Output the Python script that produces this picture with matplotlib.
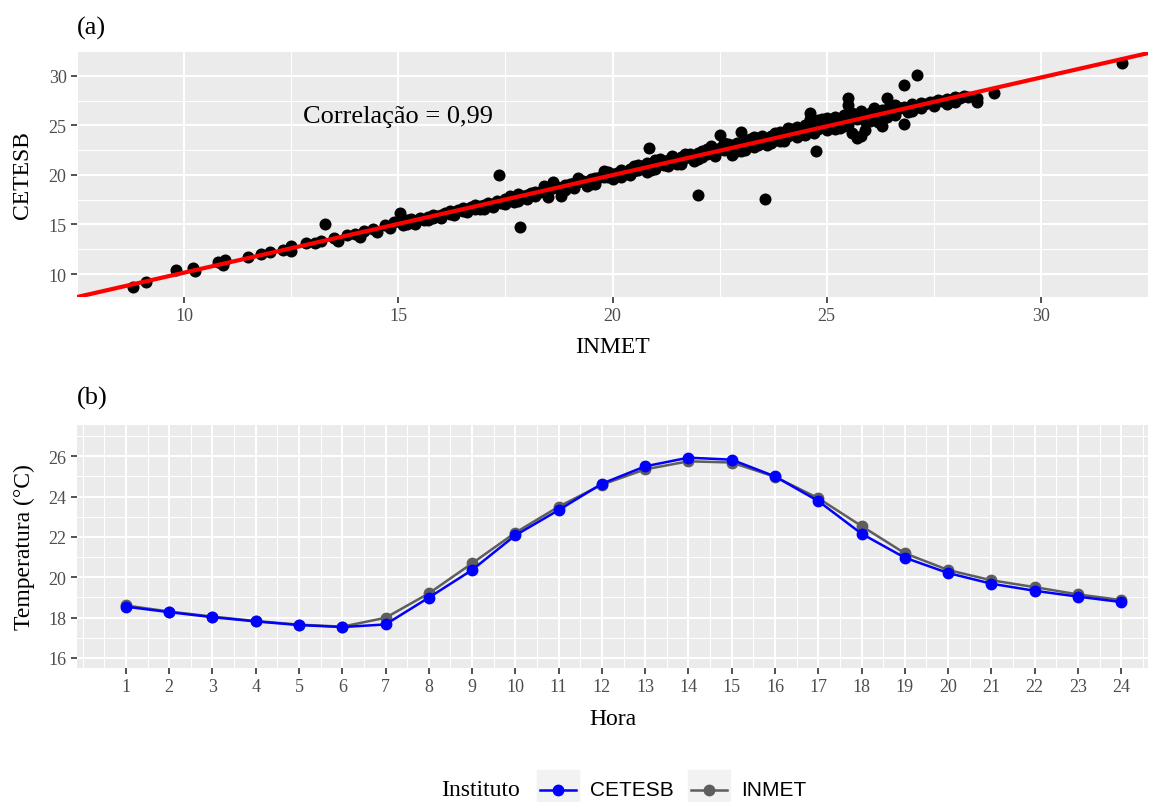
import numpy as np
import matplotlib.pyplot as plt
from matplotlib.lines import Line2D
from matplotlib.patches import Rectangle

plt.rcParams['font.family'] = ['Liberation Serif', 'DejaVu Serif']

# ── Data: (a) hourly temperature pairs, INMET vs CETESB ─────────────────────
INMET_X = [
    8.8, 9.1, 9.8, 10.2, 10.25, 10.8, 10.95, 10.9, 11.5, 11.8, 12.0, 12.3, 12.5, 12.5,
    12.85, 13.05, 13.3, 13.2, 13.5, 13.6, 13.8, 14.0, 14.1, 14.2, 14.4, 14.5, 14.7, 14.8,
    14.9, 15.05, 17.35, 17.85, 20.85, 22.0, 23.55, 24.75,
    15.1, 15.1, 15.2, 15.2, 15.3, 15.3, 15.4, 15.5, 15.5, 15.6, 15.7, 15.8, 15.8, 15.9,
    16.0, 16.1, 16.2, 16.2, 16.3, 16.4, 16.5, 16.5, 16.6, 16.7, 16.8, 16.8, 16.9, 17.0,
    17.0, 17.1, 17.2, 17.3, 17.4, 17.5, 17.6, 17.6, 17.7, 17.7, 17.8, 17.9, 18.0, 18.0,
    18.1, 18.2, 18.3, 18.4, 18.5, 18.5, 18.6, 18.6, 18.7, 18.8, 18.8, 18.9, 19.0, 19.1,
    19.1, 19.2, 19.3, 19.4, 19.4, 19.5, 19.6, 19.6, 19.7, 19.8, 19.8, 19.9, 20.0, 20.0,
    20.1, 20.2, 20.3, 20.4, 20.5, 20.5, 20.6, 20.7, 20.8, 20.8, 20.9, 21.0, 21.0, 21.1,
    21.2, 21.2, 21.3, 21.4, 21.4, 21.5, 21.6, 21.6, 21.7, 21.8, 21.9, 22.0, 22.0, 22.1,
    22.2, 22.3, 22.3, 22.4, 22.5, 22.5, 22.6, 22.6, 22.7, 22.8, 22.8, 22.9, 22.9, 23.0,
    23.0, 23.1, 23.1, 23.2, 23.2, 23.3, 23.3, 23.4, 23.5, 23.5, 23.6, 23.6, 23.7, 23.8,
    23.8, 23.9, 23.9, 24.0, 24.0, 24.1, 24.1, 24.2, 24.2, 24.3, 24.3, 24.4, 24.4, 24.5,
    24.5, 24.6, 24.6, 24.6, 24.7, 24.7, 24.8, 24.8, 24.9, 24.9, 25.0, 25.0, 25.1, 25.1,
    25.2, 25.2, 25.3, 25.3, 25.4, 25.4, 25.5, 25.5, 25.5, 25.6, 25.6, 25.7, 25.7, 25.8,
    25.8, 25.9, 25.9, 26.0, 26.0, 26.1, 26.1, 26.2, 26.2, 26.3, 26.3, 26.4, 26.4, 26.4,
    26.5, 26.5, 26.6, 26.6, 26.7, 26.8, 26.8, 26.8, 26.9, 27.0, 27.0, 27.1, 27.1, 27.2,
    27.3, 27.4, 27.5, 27.6, 27.7, 27.8, 27.9, 28.0, 28.0, 28.1, 28.2, 28.3, 28.5, 28.5,
    28.9, 31.9,
    15.4, 15.7, 16.0, 16.3, 16.6, 16.9, 17.2, 17.5, 17.8, 18.2, 18.4, 18.9, 19.2, 19.5,
    19.9, 20.2, 20.4, 20.6, 20.9, 21.1, 21.3, 21.5, 21.7, 21.9, 22.1, 22.2, 22.4, 22.7,
    23.0, 23.3, 23.4, 23.7, 23.9, 24.1, 24.3, 24.5, 24.8, 25.0, 25.2, 25.4, 25.6, 25.9,
    26.1, 26.3, 26.6, 26.9, 27.2, 27.5, 27.8,
]
CETESB_Y = [
    8.7, 9.2, 10.4, 10.6, 10.3, 11.2, 11.4, 10.9, 11.7, 12.0, 12.2, 12.4, 12.8, 12.3,
    13.1, 13.1, 15.0, 13.3, 13.6, 13.3, 13.9, 14.0, 13.7, 14.3, 14.5, 14.2, 14.9, 14.6,
    15.2, 16.2, 20.0, 14.7, 22.7, 18.0, 17.6, 22.45,
    15.3, 14.9, 15.0, 15.4, 15.2, 15.5, 15.3, 15.5, 15.7, 15.4, 15.8, 15.7, 16.0, 15.9,
    16.0, 16.2, 16.1, 16.4, 16.3, 16.5, 16.4, 16.7, 16.6, 16.8, 16.6, 17.0, 16.9, 17.0,
    16.6, 17.2, 17.1, 17.4, 17.2, 17.6, 17.5, 17.9, 17.7, 17.3, 18.1, 17.9, 18.0, 17.6,
    18.2, 18.3, 18.3, 18.5, 18.4, 17.8, 18.7, 19.3, 18.8, 18.7, 17.9, 19.0, 19.1, 19.2,
    18.7, 19.3, 19.4, 19.3, 18.9, 19.6, 19.7, 19.1, 19.8, 19.8, 20.4, 19.8, 20.1, 19.6,
    20.2, 20.5, 20.2, 20.6, 20.4, 20.9, 20.5, 20.9, 21.2, 20.3, 21.0, 21.5, 20.6, 21.2,
    21.3, 21.0, 21.5, 21.3, 21.9, 21.6, 21.8, 21.1, 21.7, 22.1, 21.9, 22.2, 21.6, 22.4,
    22.1, 22.6, 22.9, 22.3, 22.7, 24.0, 22.5, 23.2, 22.6, 23.0, 22.0, 23.2, 22.4, 24.3,
    22.9, 23.3, 22.5, 23.0, 23.6, 23.4, 22.8, 23.7, 23.3, 23.9, 23.6, 23.0, 23.9, 23.5,
    24.2, 23.8, 24.3, 24.0, 23.4, 24.4, 23.9, 24.2, 24.6, 24.3, 23.8, 24.6, 24.1, 24.5,
    25.0, 24.4, 26.2, 25.6, 24.9, 24.2, 25.2, 24.6, 25.0, 25.6, 25.2, 24.5, 25.4, 24.9,
    25.2, 25.8, 25.3, 24.7, 26.0, 25.5, 27.1, 27.8, 25.0, 25.8, 24.2, 25.6, 23.7, 26.4,
    23.9, 25.9, 24.5, 26.2, 25.4, 26.1, 26.8, 26.3, 25.3, 26.5, 24.9, 26.6, 27.8, 25.8,
    26.9, 26.3, 26.6, 26.0, 26.8, 26.9, 29.1, 25.1, 26.7, 27.2, 26.4, 30.1, 27.0, 27.3,
    27.2, 27.4, 27.4, 27.6, 27.5, 27.7, 27.6, 27.9, 27.4, 27.8, 28.0, 27.9, 27.8, 27.4,
    28.3, 31.3,
    15.0, 15.4, 15.7, 16.0, 16.3, 16.6, 16.8, 17.1, 17.4, 17.9, 18.9, 18.5, 19.7, 19.1,
    20.3, 19.8, 20.0, 21.0, 20.5, 21.6, 20.9, 21.1, 22.1, 21.4, 21.8, 22.6, 21.9, 23.1,
    22.4, 23.8, 23.0, 23.2, 23.4, 24.7, 24.8, 24.0, 25.5, 25.7, 24.6, 24.9, 26.2, 25.4,
    25.6, 26.0, 27.1, 26.3, 26.8, 27.0, 27.2,
]
CORR_TEXT = "Correlação = 0,99"

# ── Data: (b) mean daily cycle ──────────────────────────────────────────────
HOURS = list(range(1, 25))
CETESB_MEAN = [18.54, 18.27, 18.02, 17.81, 17.63, 17.53, 17.66, 18.99, 20.36, 22.08,
               23.33, 24.64, 25.50, 25.93, 25.83, 25.00, 23.78, 22.16, 20.97, 20.21,
               19.68, 19.33, 19.04, 18.77]
INMET_MEAN = [18.60, 18.30, 18.05, 17.83, 17.65, 17.55, 17.99, 19.20, 20.69, 22.21,
              23.50, 24.59, 25.35, 25.75, 25.69, 24.98, 23.92, 22.54, 21.19, 20.36,
              19.85, 19.51, 19.15, 18.87]

BLUE = '#0000FF'
GREY = '#5E5E5E'
W, H = 1160, 803


def fig_rect(x0, y0, x1, y1):
    # pixel box (top-left origin) -> figure fraction rect
    return [x0 / W, 1 - y1 / H, (x1 - x0) / W, (y1 - y0) / H]


def style_axes(ax):
    ax.set_facecolor('#EBEBEB')
    for s in ax.spines.values():
        s.set_visible(False)
    ax.set_axisbelow(True)
    ax.grid(which='major', color='white', lw=1.5)
    ax.grid(which='minor', color='white', lw=0.75)
    ax.tick_params(which='major', length=4.5, width=1.2, color='#333333',
                   labelcolor='#4D4D4D', labelsize=13, pad=3)
    ax.tick_params(which='minor', length=0)


fig = plt.figure(figsize=(W / 100, H / 100), dpi=100)

# ── (a) scatter ─────────────────────────────────────────────────────────────
ax1 = fig.add_axes(fig_rect(77, 53, 1148, 298))
style_axes(ax1)
x = np.array(INMET_X)
y = np.array(CETESB_Y)
ax1.scatter(x, y, s=75, color='black', linewidths=0, zorder=3)
slope, intercept = np.polyfit(x, y, 1)
ax1.axline((0, intercept), slope=slope, color='red', lw=3, zorder=4)
ax1.set_xlim(7.62, 32.45)
ax1.set_ylim(7.68, 32.4)
ax1.set_xticks([10, 15, 20, 25, 30])
ax1.set_xticks([7.5, 12.5, 17.5, 22.5, 27.5, 32.5], minor=True)
ax1.set_yticks([10, 15, 20, 25, 30])
ax1.set_yticks([12.5, 17.5, 22.5, 27.5], minor=True)
ax1.text(15, 25.95, CORR_TEXT, fontsize=19, ha='center', va='center')
ax1.set_xlabel('INMET', fontsize=17, labelpad=8)
ax1.set_ylabel('CETESB', fontsize=17, labelpad=11)
fig.text(77 / W, 1 - 28 / H, '(a)', fontsize=19, va='center', ha='left')

# ── (b) daily cycle ─────────────────────────────────────────────────────────
ax2 = fig.add_axes(fig_rect(77, 426, 1148, 669))
style_axes(ax2)
ax2.plot(HOURS, INMET_MEAN, color=GREY, lw=1.8, marker='o', ms=7.5, zorder=3)
ax2.plot(HOURS, CETESB_MEAN, color=BLUE, lw=1.8, marker='o', ms=7.5, zorder=4)
ax2.set_xlim(-0.13, 24.62)
ax2.set_ylim(15.5, 27.55)
ax2.set_xticks(HOURS)
ax2.set_xticks([0] + [h - 0.5 for h in HOURS] + [24.5], minor=True)
ax2.set_yticks([16, 18, 20, 22, 24, 26])
ax2.set_yticks([17, 19, 21, 23, 25, 27], minor=True)
ax2.set_xlabel('Hora', fontsize=17, labelpad=9)
ax2.set_ylabel('Temperatura (°C)', fontsize=17, labelpad=10)
fig.text(77 / W, 1 - 398 / H, '(b)', fontsize=19, va='center', ha='left')

# ── legend (ggplot-style, bottom) ───────────────────────────────────────────
fig.text(520 / W, 1 - 791 / H, 'Instituto', fontsize=17, ha='right', va='center')
for x0, col, lab in [(537, BLUE, 'CETESB'), (688, GREY, 'INMET')]:
    fig.patches.append(Rectangle((x0 / W, 1 - 806 / H), 42 / W, 35 / H,
                                 transform=fig.transFigure, color='#F2F2F2', zorder=1))
    fig.lines.append(Line2D([(x0 + 3) / W, (x0 + 39) / W], [1 - 791 / H] * 2,
                            transform=fig.transFigure, color=col, lw=1.8, zorder=2))
    fig.lines.append(Line2D([(x0 + 21) / W], [1 - 791 / H], transform=fig.transFigure,
                            color=col, marker='o', ms=7.5, zorder=3))
    fig.text((x0 + 53) / W, 1 - 791 / H, lab, fontsize=15, ha='left', va='center',
             family=['Liberation Sans', 'DejaVu Sans'])

fig.savefig('out.png', dpi=100)
